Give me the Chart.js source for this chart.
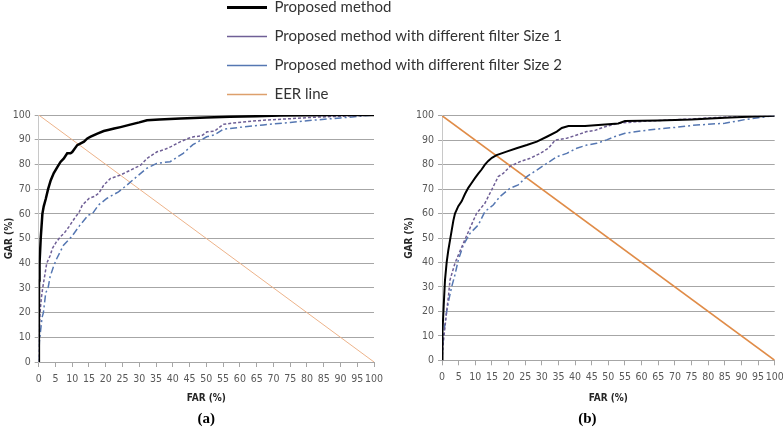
<!DOCTYPE html>
<html>
<head>
<meta charset="utf-8">
<script src="https://cdn.jsdelivr.net/npm/chart.js@4.4.1/dist/chart.umd.min.js"></script>
<style>
  html, body { margin: 0; padding: 0; background: #fff; }
  body { width: 783px; height: 432px; position: relative; overflow: hidden; }
  .box { position: absolute; }
</style>
</head>
<body>
<div class="box" style="left:0; top:100px; width:392px; height:332px;"><canvas id="chartA"></canvas></div>
<div class="box" style="left:400px; top:100px; width:383px; height:332px;"><canvas id="chartB"></canvas></div>
<div class="box" style="left:213px; top:-14px; width:760px; height:140px;"><canvas id="legend"></canvas></div>
<script>
// tick values
const farTicks = [0, 5, 10, 15, 20, 25, 30, 35, 40, 45, 50, 55, 60, 65, 70, 75, 80, 85, 90, 95, 100];
const garTicks = [0, 10, 20, 30, 40, 50, 60, 70, 80, 90, 100];

const seriesNames = [
  'Proposed method',
  'Proposed method with different filter Size 1',
  'Proposed method with different filter Size 2',
  'EER line'
];

// (a) curves, [FAR, GAR]
const aProposed = [[0,0],[0.05,15],[0.1,33],[0.2,37],[0.3,40],[0.6,50],[1.1,60],[1.5,63],[2.1,66],[2.8,70],
  [3.6,73.6],[4.5,76.5],[5.6,79],[6.5,81],[7.5,82.4],[8.5,84.5],[9.5,84.5],[10,85],[11.5,87.8],[13.5,89.2],
  [14.5,90.5],[15.5,91.2],[17.5,92.5],[19.4,93.5],[21,94],[22.5,94.5],[24.4,95.1],[27,96],[30,97],[32.3,97.9],
  [36,98.2],[42.3,98.6],[50,99],[57,99.3],[65,99.5],[72,99.8],[80,99.9],[90,100],[100,100]];
const aSize1 = [[0,0],[0.1,10],[0.2,14],[0.4,20],[0.8,26],[1.2,30],[1.8,35],[2.4,40],[3.4,43],[4.1,46],
  [5.2,48.5],[6.5,50.7],[7.8,52.5],[9,54.7],[11,58.8],[12,60.5],[13,63.5],[15,66.2],[16.5,67],[17.9,68.3],
  [19.4,71.6],[21.4,74.3],[24.4,75.7],[27.4,77.7],[30.4,79.7],[32.3,82.4],[35.3,85.1],[37.5,86],[39.3,87.1],[42.3,89.2],
  [44.5,90.5],[46.2,91.2],[48.5,91.5],[50.2,93.2],[52.5,93.5],[55,96.2],[58,96.8],[62,97.3],[67,97.9],[75,98.5],
  [82,99.1],[90,99.5],[100,100]];
const aSize2 = [[0,0],[0.2,8],[0.5,12],[1,18],[1.4,20],[2.1,28],[2.8,30],[3.4,34.5],[4.5,39],[5.4,41.9],
  [7.4,47.3],[9.8,50.7],[12.3,55.4],[14.8,59.5],[16,60],[17.8,63.5],[20.3,66.2],[23.8,68.9],[26.3,71.6],[29.2,75],
  [32.2,78.4],[35.2,80.4],[39.2,81.1],[43.1,84.5],[46,88],[50.1,91.2],[52.5,92],[55,94.2],[60,95],[67,96],
  [75,97],[82,97.9],[90,98.8],[100,100]];

// (b) curves, [FAR, GAR]
const bProposed = [[0,0],[0.1,8],[0.2,12],[0.5,22],[0.9,32.8],[1.4,40],[1.9,45],[2.4,49],[2.9,53],[3.4,57],
  [3.9,60],[4.9,63],[5.9,65],[6.9,68],[7.9,70.5],[8.9,72.5],[9.9,74.5],[10.9,76.3],[11.9,78],[12.9,80],
  [13.9,81.5],[15,82.8],[16.4,83.9],[19.4,85.3],[22.4,86.7],[25.5,88],[28.5,89.4],[31.5,91.4],[34.5,93.5],[36,95],
  [38,95.8],[43,95.8],[47,96.2],[51,96.6],[53,96.8],[55,97.8],[65,98],[75,98.4],[85,99.2],[92,99.6],
  [100,100]];
const bSize1 = [[0,0],[0.3,6],[0.6,10],[1,15],[1.4,20],[2,27],[2.4,32.8],[3.9,39.7],[4.9,43],[6.4,47.8],
  [8.4,54],[10.4,60.1],[12.9,64.2],[14.9,69.6],[16.9,75.1],[18.4,76.4],[20.4,79.2],[23.4,81.2],[26.5,82.6],[29.5,84.6],
  [32,86.7],[34,90],[37.5,90.8],[40.5,92.1],[43.5,93.5],[46,94],[49,95.5],[53,96.9],[58,97.5],[65,98],
  [75,98.7],[85,99.4],[100,100]];
const bSize2 = [[0,0],[0.2,6],[0.4,10],[0.9,15],[1.4,20],[2.1,25],[2.9,30],[3.9,35],[4.9,41],[6.4,47.1],
  [8.4,51.9],[10.9,55.3],[12.9,60.8],[15.4,63.5],[17.4,66.9],[20.4,70.3],[22.9,71.7],[25.5,75.1],[28.5,77.8],[31.5,80.5],
  [34.5,83.2],[37.5,84.6],[40.5,86.7],[43.5,88],[46.5,88.7],[49.5,90.1],[52,91.5],[55,92.8],[60,93.8],[65,94.6],
  [70,95.2],[75,96],[80,96.5],[85,96.9],[91,98.4],[95,99.2],[100,100]];

const eerLine = [[0,100],[100,0]];

const NARROW = "'Liberation Sans Narrow', 'DejaVu Sans Condensed', sans-serif";

function toPoints(arr) {
  return arr.map(p => ({ x: p[0], y: p[1] }));
}

function makeDatasets(curves, look) {
  return [
    { label: seriesNames[0], data: toPoints(curves[0]), borderColor: '#000000', borderWidth: look.blackWidth },
    { label: seriesNames[1], data: toPoints(curves[1]), borderColor: '#6F5F96', borderWidth: 1.5, borderDash: [3, 2] },
    { label: seriesNames[2], data: toPoints(curves[2]), borderColor: '#5577B2', borderWidth: 1.5, borderDash: [7, 3, 2, 3] },
    { label: seriesNames[3], data: toPoints(curves[3]), borderColor: look.eerColor, borderWidth: look.eerWidth }
  ].map(d => Object.assign(d, { pointRadius: 0, tension: 0, fill: false }));
}

function makeChart(id, curves, look) {
  const ctx = document.getElementById(id).getContext('2d');
  return new Chart(ctx, {
    type: 'line',
    data: { datasets: makeDatasets(curves, look) },
    options: {
      responsive: true,
      maintainAspectRatio: false,
      animation: false,
      layout: { padding: { left: 0, top: look.padTop, right: look.padRight, bottom: 0 } },
      scales: {
        x: {
          type: 'linear', min: 0, max: 100,
          afterBuildTicks: s => { s.ticks = farTicks.map(v => ({ value: v })); },
          afterFit: s => { s.height = look.xHeight; s.paddingLeft = 0; s.paddingRight = 0; },
          grid: { drawOnChartArea: false, drawTicks: true, tickLength: 5, color: '#A6A6A6' },
          border: { color: '#A6A6A6' },
          ticks: { padding: 6, color: '#595959', maxRotation: 0, autoSkip: false, font: { family: NARROW, size: 10.5 } },
          title: { display: true, text: 'FAR (%)', color: '#262626', padding: { top: 0, bottom: 4 },
                   font: { family: NARROW, size: 10, weight: 'bold' } }
        },
        y: {
          type: 'linear', min: 0, max: 100,
          afterBuildTicks: s => { s.ticks = garTicks.map(v => ({ value: v })); },
          afterFit: s => { s.width = look.yWidth; s.paddingTop = 0; s.paddingBottom = 0; },
          grid: { color: '#A6A6A6', tickLength: 4 },
          border: { color: '#C8C8C8' },
          ticks: { padding: 4, color: '#595959', font: { family: NARROW, size: 10.5 } },
          title: { display: true, text: 'GAR (%)', color: '#262626', padding: { top: 3.5, bottom: 0 },
                   font: { family: NARROW, size: 10, weight: 'bold' } }
        }
      },
      plugins: {
        legend: { display: false },
        tooltip: { enabled: false },
        title: {
          display: true, position: 'bottom', text: look.caption, fullSize: look.fullSize,
          color: '#000', padding: { top: 2, bottom: 4 },
          font: { family: "'Liberation Serif', serif", size: 15, weight: 'bold' }
        }
      }
    }
  });
}

makeChart('chartA', [aProposed, aSize1, aSize2, eerLine], {
  caption: '(a)', fullSize: false, blackWidth: 2.5, eerColor: '#EDB38A', eerWidth: 1,
  padTop: 15, padRight: 18, xHeight: 46, yWidth: 38.7
});
makeChart('chartB', [bProposed, bSize1, bSize2, eerLine], {
  caption: '(b)', fullSize: true, blackWidth: 2, eerColor: '#E08C48', eerWidth: 1.5,
  padTop: 15.7, padRight: 8.3, xHeight: 47.7, yWidth: 42
});

// shared legend at the top
new Chart(document.getElementById('legend').getContext('2d'), {
  type: 'line',
  data: {
    datasets: makeDatasets([[], [], [], []], { blackWidth: 3, eerColor: '#DDA06C', eerWidth: 1.5 })
  },
  options: {
    responsive: true,
    maintainAspectRatio: false,
    animation: false,
    scales: { x: { display: false }, y: { display: false } },
    plugins: {
      tooltip: { enabled: false },
      legend: {
        position: 'left', align: 'start',
        labels: {
          usePointStyle: true, pointStyle: 'line', pointStyleWidth: 40, padding: 14,
          color: '#333333', font: { family: 'Lato', size: 15 }
        }
      }
    }
  }
});
</script>
</body>
</html>
